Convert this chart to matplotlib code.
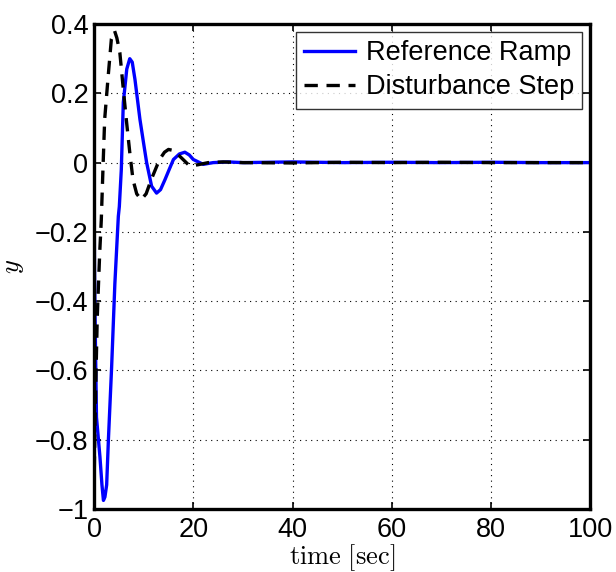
import matplotlib
matplotlib.use("Agg")
import matplotlib.pyplot as plt

plt.rcParams['font.family'] = ['Liberation Sans', 'DejaVu Sans']
plt.rcParams['mathtext.fontset'] = 'cm'

# Reference Ramp response (time, y)
ramp_t = [0, 0.1, 0.2, 0.5, 1.2, 1.6, 1.9, 2.2, 2.55, 2.9, 3.55, 4.2, 4.9, 5.1, 5.5,
          5.9, 6.6, 7.2, 7.7, 8.25, 9.25, 10.0, 10.6, 11.6, 12.6, 13.4, 14.3, 15.2,
          16.0, 17.2, 18.3, 19.2, 20.0, 22.0, 24.0, 27.0, 30.0, 40.0, 50.0, 60.0,
          70.0, 80.0, 90.0, 100.0]
ramp_y = [0.0, -0.30, -0.43, -0.735, -0.85, -0.93, -0.975, -0.965, -0.93, -0.80,
          -0.59, -0.35, -0.155, -0.127, -0.02, 0.173, 0.27, 0.30, 0.29, 0.24,
          0.125, 0.055, 0.0, -0.068, -0.088, -0.078, -0.049, -0.018, 0.009,
          0.025, 0.030, 0.022, 0.009, -0.005, 0.0, 0.002, 0.0, 0.002, 0.0, 0.001,
          0.0, 0.001, 0.0, 0.0]

# Disturbance Step response (time, y)
dist_t = [0, 0.2, 0.45, 0.65, 0.8, 1.15, 1.47, 1.8, 2.15, 2.8, 3.5, 4.15, 4.6, 5.2,
          5.85, 6.5, 7.2, 7.85, 8.6, 9.5, 10.5, 11.5, 13.2, 14.2, 15.0, 16.0,
          17.3, 19.3, 21.0, 23.0, 26.0, 30.0, 40.0, 50.0, 60.0, 70.0, 80.0, 90.0,
          100.0]
dist_y = [-0.95, -0.75, -0.58, -0.45, -0.39, -0.26, -0.165, -0.02, 0.125, 0.24,
          0.357, 0.38, 0.36, 0.318, 0.22, 0.125, 0.03, -0.049, -0.09, -0.107,
          -0.09, -0.05, 0.009, 0.03, 0.038, 0.035, 0.018, -0.01, -0.006, 0.0,
          0.002, 0.0, -0.001, 0.001, 0.0, 0.001, 0.0, 0.0, 0.0]

xticks = [0, 20, 40, 60, 80, 100]
yticks = [-1, -0.8, -0.6, -0.4, -0.2, 0, 0.2, 0.4]
ytick_labels = ['\u22121', '\u22120.8', '\u22120.6', '\u22120.4', '\u22120.2', '0', '0.2', '0.4']

fig = plt.figure(figsize=(6.16, 5.72), dpi=100)
ax = fig.add_axes([0.1526, 0.110, 0.806, 0.848])

ax.plot(ramp_t, ramp_y, color='#0000ff', lw=2.4, label='Reference Ramp')
ax.plot(dist_t, dist_y, color='black', lw=2.4, dashes=(4, 2.6), label='Disturbance Step')

ax.set_xlim(0, 100)
ax.set_ylim(-1, 0.4)
ax.set_xticks(xticks)
ax.set_xticklabels([str(v) for v in xticks])
ax.set_yticks(yticks)
ax.set_yticklabels(ytick_labels)
ax.grid(True, linestyle=(0, (1, 4)), color='black', lw=0.8)
ax.tick_params(direction='in', length=5, width=1.2, top=True, right=True,
               labelsize=19.5, pad=4)
ax.tick_params(axis='x', pad=6)
for s in ax.spines.values():
    s.set_linewidth(2.4)

ax.set_xlabel(r'$\mathrm{time\ [sec]}$', fontsize=19, labelpad=-1)
ax.set_ylabel(r'$y$', fontsize=19, labelpad=6)

leg = ax.legend(loc='upper right', fontsize=19.5, frameon=True, fancybox=False,
                edgecolor='black', borderaxespad=0.3, handlelength=1.9,
                labelspacing=0.3, borderpad=0.3, handletextpad=0.4)
leg.get_frame().set_linewidth(1.0)

fig.savefig('out.png', dpi=100)
